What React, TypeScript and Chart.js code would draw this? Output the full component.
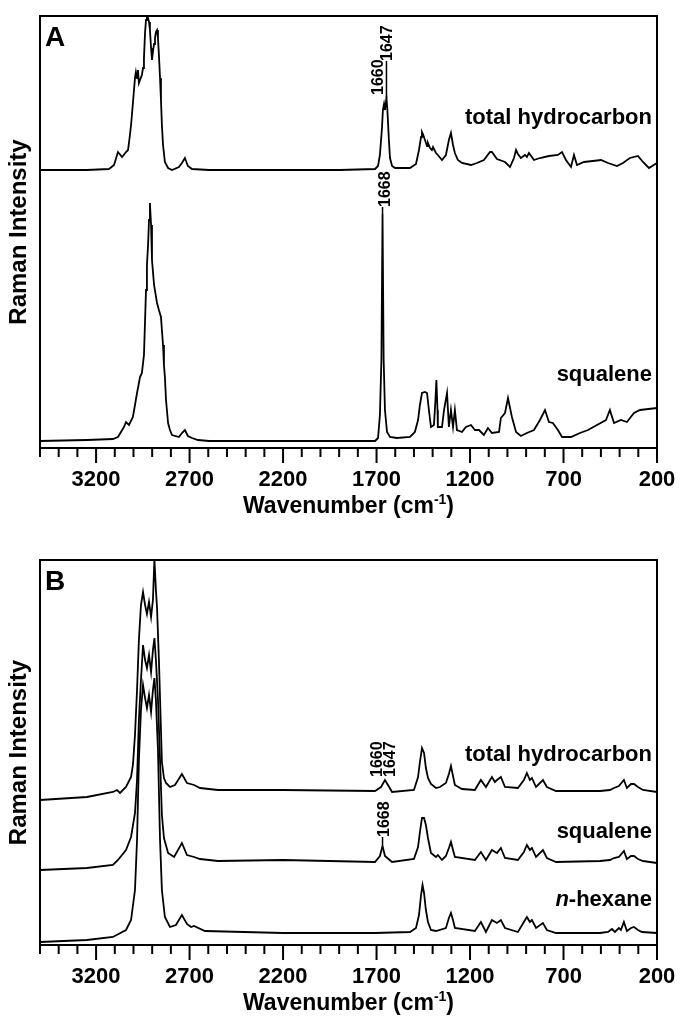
import React, { useEffect, useRef } from 'react';
import { Chart, registerables } from 'chart.js';

Chart.register(...registerables);

const FONT = '"Liberation Sans", Arial, Helvetica, sans-serif';

// ---------- x axis ----------
const xMin = 200;
const xMax = 3500;
const minorStep = 100;
const majorTickValues = [3200, 2700, 2200, 1700, 1200, 700, 200];

// ---------- Panel A : total hydrocarbon ----------
const thA_wn = [3500, 3249, 3131, 3104, 3083, 3061, 3040, 3029, 3019, 3013, 3003, 2992, 2987, 2981, 2976, 2971, 2965, 2955, 2949, 2944, 2938, 2933, 2928, 2922, 2917, 2912, 2906, 2901, 2896, 2890, 2885, 2880, 2874, 2869, 2864, 2858, 2853, 2848, 2842, 2832, 2815, 2794, 2757, 2741, 2725, 2709, 2687, 2596, 2200, 1896, 1708, 1692, 1682, 1671, 1666, 1660, 1655, 1647, 1642, 1634, 1628, 1617, 1601, 1521, 1489, 1473, 1462, 1457, 1452, 1441, 1430, 1425, 1414, 1404, 1398, 1382, 1372, 1350, 1329, 1313, 1302, 1291, 1281, 1265, 1243, 1195, 1163, 1126, 1093, 1083, 1056, 1013, 986, 965, 954, 944, 928, 906, 896, 885, 858, 826, 778, 730, 708, 687, 660, 644, 628, 591, 543, 500, 462, 414, 382, 345, 302, 275, 243, 200];
const thA_int = [278, 278, 279, 283, 296, 291, 296, 298, 313, 323, 345, 370, 376, 370, 378, 365, 368, 373, 380, 390, 416, 428, 431, 430, 426, 418, 400, 388, 396, 404, 410, 416, 418, 410, 393, 370, 348, 323, 303, 286, 280, 278, 281, 285, 290, 282, 279, 278, 278, 278, 279, 282, 293, 320, 338, 344, 338, 350, 338, 308, 290, 282, 280, 280, 284, 298, 311, 316, 314, 308, 302, 305, 300, 298, 301, 295, 293, 288, 293, 308, 315, 303, 295, 288, 285, 283, 285, 288, 296, 296, 289, 286, 281, 290, 298, 294, 290, 293, 291, 295, 288, 290, 292, 293, 296, 288, 281, 293, 283, 286, 287, 288, 285, 282, 285, 290, 292, 286, 280, 285];

// ---------- Panel A : squalene ----------
const sqA_wn = [3500, 3249, 3110, 3083, 3051, 3040, 3024, 3003, 2981, 2965, 2955, 2944, 2938, 2933, 2928, 2922, 2917, 2912, 2906, 2901, 2890, 2874, 2864, 2853, 2848, 2842, 2837, 2832, 2826, 2815, 2805, 2794, 2757, 2741, 2725, 2709, 2687, 2655, 2596, 2200, 1708, 1692, 1682, 1674, 1668, 1662, 1655, 1644, 1628, 1591, 1521, 1495, 1478, 1468, 1457, 1441, 1430, 1420, 1409, 1393, 1385, 1380, 1374, 1372, 1361, 1350, 1339, 1323, 1313, 1302, 1291, 1281, 1270, 1243, 1222, 1195, 1174, 1152, 1126, 1104, 1083, 1045, 1035, 1013, 997, 976, 954, 928, 896, 858, 826, 799, 778, 757, 730, 708, 660, 612, 569, 521, 473, 452, 430, 393, 361, 323, 291, 200];
const sqA_int = [7, 8, 9, 11, 21, 26, 23, 31, 55, 71, 75, 93, 128, 158, 183, 203, 228, 245, 223, 188, 163, 145, 138, 131, 118, 103, 83, 71, 48, 25, 18, 13, 11, 15, 18, 12, 10, 8, 7, 7, 7, 10, 33, 88, 234, 88, 38, 16, 11, 10, 11, 16, 28, 43, 55, 56, 55, 38, 21, 23, 48, 68, 38, 21, 21, 21, 38, 55, 21, 38, 21, 38, 18, 16, 21, 23, 18, 18, 13, 20, 15, 16, 30, 35, 50, 31, 16, 12, 15, 18, 28, 38, 26, 25, 18, 11, 11, 15, 18, 23, 28, 38, 25, 28, 26, 35, 38, 40];

// ---------- Panel B : total hydrocarbon ----------
const thB_wn = [3500, 3249, 3110, 3088, 3072, 3040, 3013, 3003, 2992, 2981, 2971, 2960, 2949, 2938, 2928, 2917, 2906, 2896, 2888, 2880, 2874, 2864, 2853, 2848, 2837, 2826, 2805, 2778, 2741, 2714, 2676, 2644, 2548, 2200, 1708, 1676, 1655, 1639, 1617, 1500, 1478, 1468, 1457, 1446, 1436, 1425, 1409, 1382, 1361, 1329, 1313, 1302, 1291, 1281, 1243, 1174, 1142, 1115, 1083, 1067, 1056, 1035, 1013, 944, 912, 896, 880, 869, 847, 810, 789, 740, 505, 452, 430, 404, 377, 361, 339, 323, 302, 275, 200];
const thB_int = [145, 148, 153, 155, 152, 158, 168, 180, 210, 255, 305, 340, 353, 340, 331, 343, 328, 345, 386, 355, 337, 285, 215, 183, 167, 162, 158, 160, 171, 162, 160, 157, 155, 155, 154, 158, 165, 160, 153, 155, 168, 183, 197, 192, 177, 167, 161, 157, 158, 162, 171, 179, 169, 160, 156, 155, 165, 158, 168, 163, 165, 168, 158, 157, 165, 172, 165, 167, 158, 165, 158, 154, 154, 155, 157, 159, 165, 157, 161, 161, 158, 155, 153];

// ---------- Panel B : squalene ----------
const sqB_wn = [3500, 3249, 3110, 3083, 3040, 3013, 2992, 2981, 2971, 2960, 2949, 2938, 2928, 2917, 2906, 2896, 2888, 2880, 2869, 2858, 2848, 2837, 2815, 2783, 2741, 2714, 2676, 2644, 2548, 2200, 1708, 1682, 1668, 1655, 1617, 1500, 1478, 1468, 1457, 1446, 1436, 1425, 1409, 1382, 1372, 1350, 1329, 1313, 1302, 1291, 1281, 1174, 1142, 1115, 1083, 1056, 1035, 1013, 944, 912, 896, 880, 869, 847, 810, 789, 740, 505, 452, 430, 404, 377, 361, 339, 323, 302, 275, 200];
const sqB_int = [75, 77, 80, 85, 95, 108, 132, 165, 225, 265, 300, 285, 277, 290, 273, 295, 307, 285, 245, 185, 130, 107, 92, 88, 102, 90, 88, 86, 84, 85, 83, 89, 99, 89, 83, 86, 98, 113, 127, 127, 120, 107, 92, 88, 90, 85, 89, 97, 103, 95, 88, 85, 93, 85, 95, 92, 97, 87, 85, 93, 100, 95, 97, 88, 95, 87, 83, 84, 85, 87, 88, 94, 86, 89, 89, 86, 84, 82];

// ---------- Panel B : n-hexane ----------
const hxB_wn = [3500, 3249, 3110, 3040, 3013, 2992, 2981, 2971, 2960, 2949, 2938, 2928, 2917, 2906, 2896, 2888, 2880, 2869, 2858, 2848, 2832, 2805, 2773, 2741, 2714, 2692, 2676, 2618, 2200, 1708, 1521, 1489, 1473, 1462, 1454, 1446, 1436, 1425, 1409, 1382, 1329, 1313, 1302, 1291, 1281, 1174, 1142, 1115, 1083, 1056, 1035, 1013, 944, 912, 896, 880, 869, 847, 810, 789, 740, 505, 462, 441, 425, 404, 393, 377, 361, 339, 323, 302, 280, 200];
const hxB_int = [3, 5, 8, 15, 25, 55, 105, 185, 235, 260, 247, 237, 250, 233, 255, 267, 245, 195, 105, 55, 28, 18, 20, 30, 21, 18, 19, 14, 12, 12, 13, 17, 30, 50, 60, 52, 35, 23, 15, 14, 17, 27, 32, 25, 17, 14, 23, 13, 25, 22, 25, 17, 13, 23, 28, 23, 25, 17, 22, 15, 12, 12, 13, 16, 13, 17, 15, 23, 14, 17, 18, 15, 13, 12];

// ---------- text ----------
const yTitle = 'Raman Intensity';
const xTitleMain = 'Wavenumber (cm';
const xTitleSup = '-1';
const xTitleEnd = ')';

type SeriesLabel = { text: string; italicPrefix?: string; at: number };
type PeakLabel = { text: string; wn: number; bottom: number; dx: number; lineTo?: number };
type Panel = {
  letter: string;
  canvasHeight: number;
  padTop: number;
  axisHeight: number;
  yMax: number;
  series: { wn: number[]; int: number[] }[];
  seriesLabels: SeriesLabel[];
  peakLabels: PeakLabel[];
};

const panelA: Panel = {
  letter: 'A',
  canvasHeight: 530,
  padTop: 16,
  axisHeight: 82,
  yMax: 432,
  series: [
    { wn: thA_wn, int: thA_int },
    { wn: sqA_wn, int: sqA_int },
  ],
  seriesLabels: [
    { text: 'total hydrocarbon', at: 330 },
    { text: 'squalene', at: 73 },
  ],
  peakLabels: [
    { text: '1660', wn: 1660, bottom: 353, dx: -6.5 },
    { text: '1647', wn: 1647, bottom: 387, dx: 0.5, lineTo: 350 },
    { text: '1668', wn: 1668, bottom: 241, dx: 2.5, lineTo: 234 },
  ],
};

const panelB: Panel = {
  letter: 'B',
  canvasHeight: 489,
  padTop: 30,
  axisHeight: 74,
  yMax: 385,
  series: [
    { wn: thB_wn, int: thB_int },
    { wn: sqB_wn, int: sqB_int },
    { wn: hxB_wn, int: hxB_int },
  ],
  seriesLabels: [
    { text: 'total hydrocarbon', at: 190 },
    { text: 'squalene', at: 113 },
    { text: '-hexane', italicPrefix: 'n', at: 45 },
  ],
  peakLabels: [
    { text: '1660', wn: 1660, bottom: 168, dx: -7 },
    { text: '1647', wn: 1647, bottom: 168, dx: 3.5 },
    { text: '1668', wn: 1668, bottom: 108, dx: 1, lineTo: 100 },
  ],
};

function makeExtras(panel: Panel) {
  return {
    id: 'extras' + panel.letter,
    afterDraw(chart: any) {
      const { ctx, chartArea } = chart;
      const { left, right, top, bottom } = chartArea;
      const xs = chart.scales.x;
      const ys = chart.scales.y;
      ctx.save();
      ctx.strokeStyle = '#000';
      ctx.fillStyle = '#000';
      // frame
      ctx.lineWidth = 2;
      ctx.strokeRect(left, top, right - left, bottom - top);
      // ticks (minor every 100, major every 500)
      ctx.beginPath();
      xs.ticks.forEach((t: any) => {
        const v = Math.round(t.value);
        const px = xs.getPixelForValue(v);
        const major = majorTickValues.includes(v);
        ctx.moveTo(px, bottom);
        ctx.lineTo(px, bottom + (major ? 15 : 9));
      });
      ctx.stroke();
      // panel letter
      ctx.font = `bold 28px ${FONT}`;
      ctx.textAlign = 'left';
      ctx.textBaseline = 'alphabetic';
      ctx.fillText(panel.letter, left + 5, top + 30);
      // series labels
      panel.seriesLabels.forEach((l) => {
        const y = ys.getPixelForValue(l.at);
        const xr = right - 5;
        ctx.textBaseline = 'middle';
        ctx.textAlign = 'right';
        ctx.font = `bold 22px ${FONT}`;
        ctx.fillText(l.text, xr, y);
        if (l.italicPrefix) {
          const w = ctx.measureText(l.text).width;
          ctx.font = `italic bold 22px ${FONT}`;
          ctx.fillText(l.italicPrefix, xr - w, y);
        }
      });
      // peak labels
      panel.peakLabels.forEach((p) => {
        const px = xs.getPixelForValue(p.wn);
        const by = ys.getPixelForValue(p.bottom);
        ctx.save();
        ctx.font = `bold 16px ${FONT}`;
        ctx.translate(px + p.dx, by);
        ctx.rotate(-Math.PI / 2);
        ctx.textAlign = 'left';
        ctx.textBaseline = 'middle';
        ctx.fillText(p.text, 0, 1);
        ctx.restore();
        if (p.lineTo !== undefined) {
          ctx.lineWidth = 1.5;
          ctx.beginPath();
          ctx.moveTo(px, by);
          ctx.lineTo(px, ys.getPixelForValue(p.lineTo));
          ctx.stroke();
        }
      });
      // x title with superscript
      const cx = (left + right) / 2;
      const base = bottom + 65;
      ctx.textAlign = 'left';
      ctx.textBaseline = 'alphabetic';
      ctx.font = `bold 23px ${FONT}`;
      const w1 = ctx.measureText(xTitleMain).width;
      const w3 = ctx.measureText(xTitleEnd).width;
      ctx.font = `bold 14px ${FONT}`;
      const ws = ctx.measureText(xTitleSup).width;
      const start = cx - (w1 + ws + w3) / 2;
      ctx.font = `bold 23px ${FONT}`;
      ctx.fillText(xTitleMain, start, base);
      ctx.fillText(xTitleEnd, start + w1 + ws, base);
      ctx.font = `bold 14px ${FONT}`;
      ctx.fillText(xTitleSup, start + w1, base - 9);
      ctx.restore();
    },
  };
}

function buildChart(canvas: HTMLCanvasElement, panel: Panel) {
  return new Chart(canvas, {
    type: 'line',
    data: {
      datasets: panel.series.map((s) => ({
        data: s.wn.map((w, i) => ({ x: w, y: s.int[i] })),
        borderColor: '#000',
        borderWidth: 1.8,
        pointRadius: 0,
        tension: 0,
        fill: false,
      })),
    },
    options: {
      animation: false,
      responsive: false,
      maintainAspectRatio: false,
      layout: { padding: { top: panel.padTop, right: 24, left: 0, bottom: 0 } },
      plugins: { legend: { display: false }, tooltip: { enabled: false } },
      scales: {
        x: {
          type: 'linear',
          reverse: true,
          min: xMin,
          max: xMax,
          afterFit: (s: any) => {
            s.height = panel.axisHeight;
            s.paddingLeft = 0;
            s.paddingRight = 0;
          },
          grid: { display: false, drawTicks: false },
          border: { display: false },
          ticks: {
            stepSize: minorStep,
            autoSkip: false,
            maxRotation: 0,
            padding: 19,
            color: '#000',
            font: { family: FONT, size: 22, weight: 'bold' },
            callback: (v: any) => (majorTickValues.includes(Math.round(Number(v))) ? String(Math.round(Number(v))) : ''),
          },
        },
        y: {
          min: 0,
          max: panel.yMax,
          afterFit: (s: any) => {
            s.width = 40;
          },
          grid: { display: false },
          border: { display: false },
          ticks: { display: false },
          title: {
            display: true,
            text: yTitle,
            color: '#000',
            font: { family: FONT, size: 24, weight: 'bold' },
            padding: { top: 5, bottom: 0 },
          },
        },
      },
    } as any,
    plugins: [makeExtras(panel)],
  });
}

export default function App() {
  const refA = useRef<HTMLCanvasElement>(null);
  const refB = useRef<HTMLCanvasElement>(null);
  useEffect(() => {
    const a = buildChart(refA.current!, panelA);
    const b = buildChart(refB.current!, panelB);
    return () => {
      a.destroy();
      b.destroy();
    };
  }, []);
  return (
    <div style={{ position: 'absolute', left: 0, top: 0, width: 681, height: 1019, background: '#fff' }}>
      <canvas ref={refA} width={681} height={panelA.canvasHeight} style={{ display: 'block', width: 681, height: panelA.canvasHeight }} />
      <canvas ref={refB} width={681} height={panelB.canvasHeight} style={{ display: 'block', width: 681, height: panelB.canvasHeight }} />
    </div>
  );
}
